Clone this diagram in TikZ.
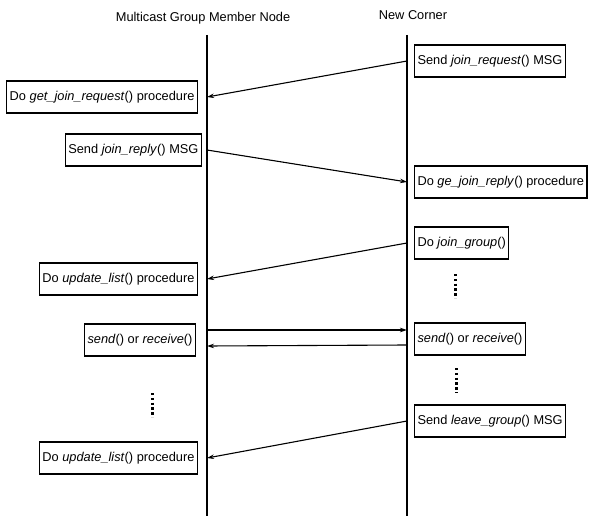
\documentclass[tikz,border=0pt]{standalone}
\usepackage{fontspec}
\setmainfont{Liberation Sans}
\usetikzlibrary{arrows.meta,calc}

\begin{document}
\begin{tikzpicture}[x=1pt, y=-1pt,
  every node/.style = {font=\fontsize{12.8}{15}\selectfont},
  mbox/.style = {shape=rectangle, draw, line width=1.1pt,
    inner xsep=3pt, minimum height=32pt},
  msg/.style = {-{Stealth[length=7pt,width=4.5pt]}, line width=1.1pt},
  life/.style = {line width=1.4pt},
  etc/.style = {line width=3pt, dash pattern=on 2.4pt off 2.4pt}]
  \useasboundingbox (0,0) rectangle (597,516);
  % lifelines
  \node (member) at (203,18) {Multicast Group Member Node};
  \node (corner) at (413,15) {New Corner};
  \coordinate (L) at (207,35);
  \coordinate (Lend) at (207,516);
  \coordinate (R) at (407,35);
  \coordinate (Rend) at (407,516);
  \draw[life] (L) -- (Lend);
  \draw[life] (R) -- (Rend);
  % steps
  \node[mbox, anchor=west] (sendreq) at (414,61) {Send \textit{join\_request}() MSG};
  \node[mbox, anchor=east] (getreq) at (198,97) {Do \textit{get\_join\_request}() procedure};
  \node[mbox, anchor=east] (sendrep) at (202,150) {Send \textit{join\_reply}() MSG};
  \node[mbox, anchor=west] (getrep) at (414,182) {Do \textit{ge\_join\_reply}() procedure};
  \node[mbox, anchor=west] (join) at (414,243) {Do \textit{join\_group}()};
  \node[mbox, anchor=east] (upd1) at (198,279) {Do \textit{update\_list}() procedure};
  \node[mbox, anchor=east] (sndL) at (196,340) {\textit{send}() or \textit{receive}()};
  \node[mbox, anchor=west] (sndR) at (414,339) {\textit{send}() or \textit{receive}()};
  \node[mbox, anchor=west] (leave) at (414,421) {Send \textit{leave\_group}() MSG};
  \node[mbox, anchor=east] (upd2) at (198,458) {Do \textit{update\_list}() procedure};
  % messages
  \draw[msg] (sendreq.west -| R) -- (getreq.east -| L);
  \draw[msg] (sendrep.east -| L) -- (getrep.west -| R);
  \draw[msg] (join.west -| R) -- (upd1.east -| L);
  \draw[msg] ($(sndL.east -| L)+(0,-10)$) -- ($(sndR.west -| R)+(0,-9)$);
  \draw[msg] ($(sndR.west -| R)+(0,6)$) -- ($(sndL.east -| L)+(0,6)$);
  \draw[msg] (leave.west -| R) -- (upd2.east -| L);
  % and so on
  \draw[etc] (455,274) -- (455,298);
  \draw[etc] (456,368) -- (456,393);
  \draw[etc] (152,393) -- (152,417);
\end{tikzpicture}
\end{document}
